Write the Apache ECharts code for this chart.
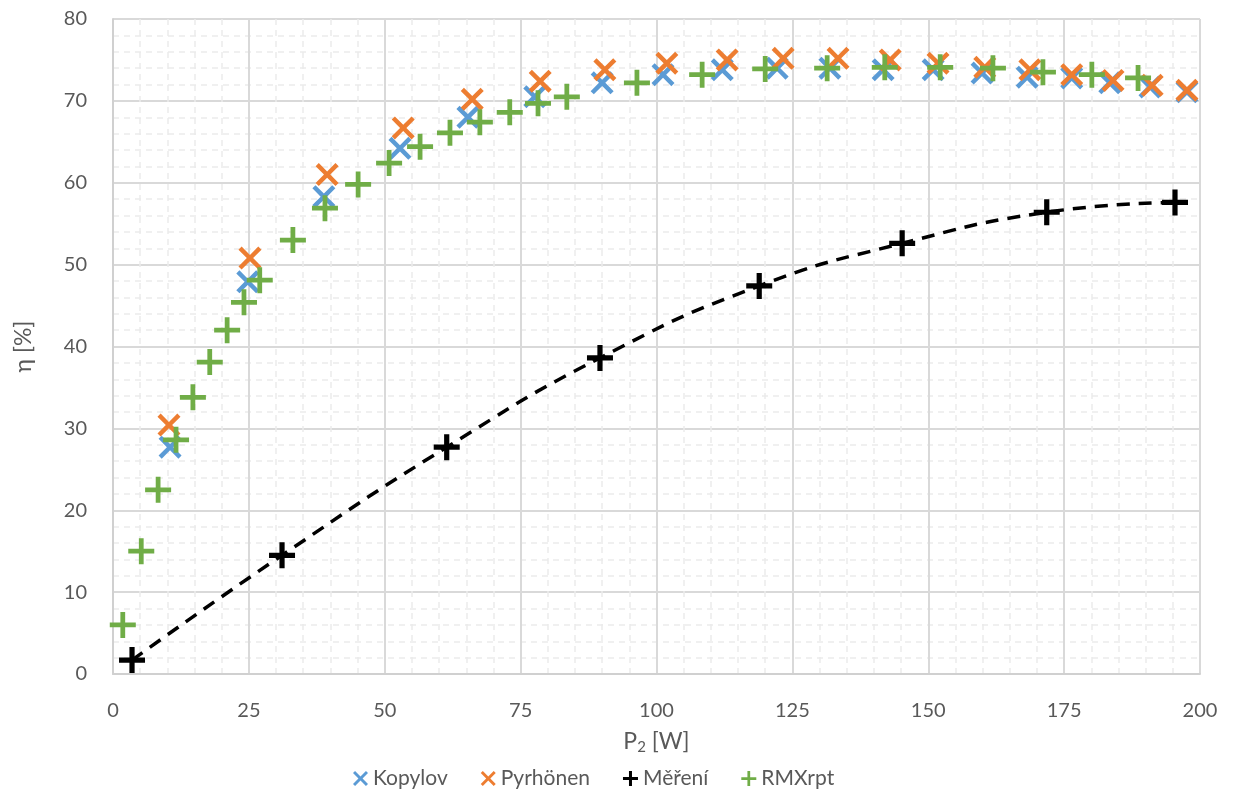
<!DOCTYPE html>
<html>
<head>
<meta charset="utf-8">
<script src="https://cdn.jsdelivr.net/npm/echarts@6/dist/echarts.min.js"></script>
<style>html,body{margin:0;padding:0;background:#fff}#c{width:1239px;height:798px}</style>
</head>
<body>
<div id="c"></div>
<script>
const xTicks = [0, 25, 50, 75, 100, 125, 150, 175, 200];
const yTicks = [0, 10, 20, 30, 40, 50, 60, 70, 80];

const kopylov = [[10.5,27.7],[24.8,47.9],[38.8,58.3],[52.8,64.2],[65.3,68.0],[77.6,70.5],[90.0,72.2],[101.2,73.2],[112.1,73.8],[122.2,74.0],[131.9,74.0],[141.7,73.8],[150.9,73.8],[159.9,73.4],[168.2,72.9],[176.4,72.8],[183.4,72.2],[190.8,71.7],[197.6,71.1]];
const pyrhonen = [[10.3,30.4],[25.2,50.8],[39.4,61.0],[53.4,66.7],[66.1,70.2],[78.6,72.4],[90.5,73.8],[101.9,74.6],[113.0,75.0],[123.3,75.2],[133.4,75.2],[143.0,75.0],[151.8,74.6],[160.4,74.1],[168.7,73.8],[176.4,73.2],[184.0,72.5],[191.2,71.9],[197.6,71.3]];
const mereni = [[3.5,1.7],[31.1,14.5],[61.4,27.7],[89.6,38.6],[118.9,47.4],[145.2,52.6],[171.8,56.4],[195.4,57.6]];
const rmxrpt = [[1.8,6.0],[5.2,15.0],[8.3,22.5],[11.6,28.6],[14.7,33.8],[17.8,38.1],[21.0,42.0],[24.1,45.4],[27.0,48.1],[33.1,53.0],[39.0,56.9],[45.1,59.8],[50.8,62.4],[56.5,64.4],[62.0,66.1],[67.5,67.4],[73.0,68.6],[78.2,69.7],[83.5,70.5],[96.4,72.2],[108.4,73.2],[120.0,73.9],[131.4,74.0],[142.0,74.1],[152.2,74.1],[161.9,74.0],[171.1,73.5],[180.1,73.2],[188.6,72.8]];

const XPATH = 'path://M0,3.3 L3.3,0 L12,8.7 L20.7,0 L24,3.3 L15.3,12 L24,20.7 L20.7,24 L12,15.3 L3.3,24 L0,20.7 L8.7,12 Z';
const PLUS = 'path://M9.8,0 H14.2 V9.8 H24 V14.2 H14.2 V24 H9.8 V14.2 H0 V9.8 H9.8 Z';
const PLUSB = 'path://M9.6,0 H14.4 V9.6 H24 V14.4 H14.4 V24 H9.6 V14.4 H0 V9.6 H9.6 Z';
const FONT = 'Lato';
const TXT = '#595959';

const chart = echarts.init(document.getElementById('c'), null, {renderer: 'canvas'});
chart.setOption({
  animation: false,
  textStyle: {fontFamily: FONT},
  grid: {left: 113, right: 39, top: 19, bottom: 124, containLabel: false},
  xAxis: {
    type: 'value', min: xTicks[0], max: xTicks[xTicks.length-1], interval: 25,
    name: 'P{sub|2} [W]', nameLocation: 'middle', nameGap: 54,
    nameTextStyle: {fontFamily: FONT, fontSize: 23, color: TXT,
      rich: {sub: {fontFamily: FONT, fontSize: 15, color: TXT, verticalAlign: 'bottom', padding: [12,0,0,0]}}},
    axisLine: {show: true, lineStyle: {color: '#d0d0d0', width: 2}},
    axisTick: {show: false},
    axisLabel: {fontFamily: FONT, fontSize: 20, color: TXT, margin: 27},
    splitLine: {show: true, lineStyle: {color: '#d9d9d9', width: 2}},
    minorTick: {show: false, splitNumber: 5},
    minorSplitLine: {show: true, lineStyle: {color: '#ebebeb', width: 1.5, type: [6, 5]}}
  },
  yAxis: {
    type: 'value', min: yTicks[0], max: yTicks[yTicks.length-1], interval: 10,
    name: 'η [%]', nameLocation: 'middle', nameGap: 78, nameRotate: 90,
    nameTextStyle: {fontFamily: FONT, fontSize: 23, color: TXT},
    axisLine: {show: true, lineStyle: {color: '#d0d0d0', width: 2}},
    axisTick: {show: false},
    axisLabel: {fontFamily: FONT, fontSize: 20, color: TXT, margin: 26},
    splitLine: {show: true, lineStyle: {color: '#d9d9d9', width: 2}},
    minorTick: {show: false, splitNumber: 5},
    minorSplitLine: {show: true, lineStyle: {color: '#ebebeb', width: 1.5, type: [6, 5]}}
  },
  legend: {
    bottom: 4, left: 348, itemGap: 33, itemWidth: 15, itemHeight: 15,
    textStyle: {fontFamily: FONT, fontSize: 21, color: TXT},
    data: ['Kopylov', 'Pyrhönen', 'Měření', 'RMXrpt']
  },
  series: [
    {name: 'Kopylov', type: 'scatter', data: kopylov, symbol: XPATH, symbolSize: 23,
      itemStyle: {color: '#5B9BD5', opacity: 1}},
    {name: 'Pyrhönen', type: 'scatter', data: pyrhonen, symbol: XPATH, symbolSize: 23,
      itemStyle: {color: '#ED7D31', opacity: 1}},
    {name: 'trend', type: 'line', data: mereni, smooth: 0.5, showSymbol: false, symbol: 'none',
      lineStyle: {color: '#000', width: 3.5, type: [13, 9]}, silent: true, z: 2},
    {name: 'Měření', type: 'scatter', data: mereni, symbol: PLUSB, symbolSize: 26,
      itemStyle: {color: '#000', opacity: 1}, z: 3},
    {name: 'RMXrpt', type: 'scatter', data: rmxrpt, symbol: PLUS, symbolSize: 26,
      itemStyle: {color: '#70AD47', opacity: 1}}
  ]
});
</script>
</body>
</html>
